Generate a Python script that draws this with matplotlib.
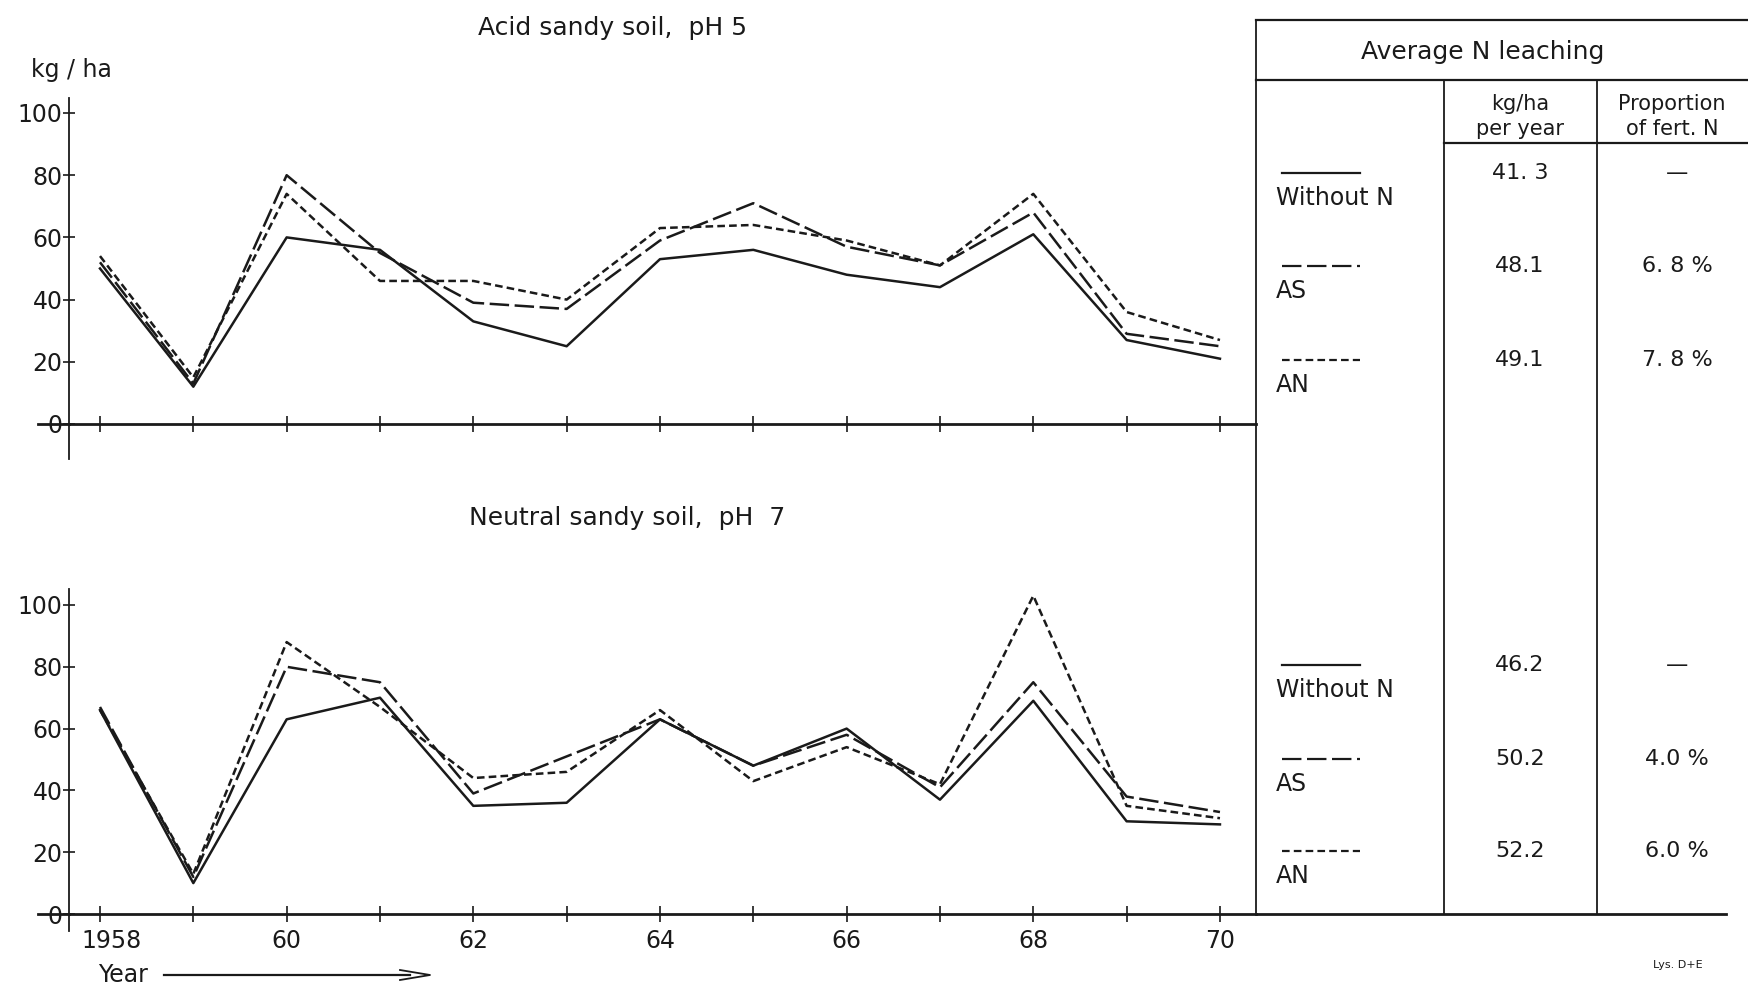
import numpy as np
import matplotlib
matplotlib.use('Agg')
import matplotlib.pyplot as plt
import matplotlib.transforms as mtransforms
from matplotlib.lines import Line2D

plt.rcParams['font.family'] = ['DejaVu Sans']
plt.rcParams['lines.scale_dashes'] = False

# Annual N leaching, kg/ha
years = np.arange(1958, 1971)
acid_without_n = [50, 12, 60, 56, 33, 25, 53, 56, 48, 44, 61, 27, 21]
acid_as = [52, 13, 80, 55, 39, 37, 59, 71, 57, 51, 68, 29, 25]
acid_an = [54, 15, 74, 46, 46, 40, 63, 64, 59, 51, 74, 36, 27]

neutral_without_n = [66, 10, 63, 70, 35, 36, 63, 48, 60, 37, 69, 30, 29]
neutral_as = [67, 12, 80, 75, 39, 51, 63, 48, 58, 41, 75, 38, 33]
neutral_an = [66, 13, 88, 67, 44, 46, 66, 43, 54, 42, 103, 35, 31]

# Table: average N leaching
series_names = ['Without N', 'AS', 'AN']
acid_avg = ['41. 3', '48.1', '49.1']
acid_prop = ['\u2014', '6. 8 %', '7. 8 %']
neutral_avg = ['46.2', '50.2', '52.2']
neutral_prop = ['\u2014', '4.0 %', '6.0 %']

tick_labels = ['1958', '', '60', '', '62', '', '64', '', '66', '', '68', '', '70']

W, H = 1748, 986
INK = '#1a1a1a'
LW = 1.8
styles = {
    'Without N': dict(ls='-'),
    'AS': dict(ls=(0, (14, 4))),
    'AN': dict(ls=(0, (5.5, 3))),
}

fig = plt.figure(figsize=(W / 100, H / 100), dpi=100)


def fx(px):
    return px / W


def fy(py):
    return 1 - py / H


def add_panel(top, bottom, y0_px, y100_px):
    left, right = 69, 1256
    ax = fig.add_axes([fx(left), fy(bottom), fx(right - left), (bottom - top) / H])
    ppu = (y0_px - y100_px) / 100.0
    ax.set_ylim(-(bottom - y0_px) / ppu, (y0_px - top) / ppu)
    ppy = 93.33
    ax.set_xlim(1958 - (100 - left) / ppy, 1958 + (right - 100) / ppy)
    for s in ['top', 'right']:
        ax.spines[s].set_visible(False)
    ax.spines['bottom'].set_position(('data', 0))
    ax.spines['bottom'].set_linewidth(2.0)
    ax.spines['left'].set_linewidth(1.3)
    ax.spines['bottom'].set_color(INK)
    ax.spines['left'].set_color(INK)
    # zero line runs on a little past the y axis
    ax.plot([-0.026, 0], [0, 0], transform=ax.get_yaxis_transform(),
            color=INK, lw=2.0, clip_on=False)
    ax.set_yticks([0, 20, 40, 60, 80, 100])
    ax.set_xticks(years)
    ax.tick_params(axis='y', direction='inout', length=9, width=1.2,
                   labelsize=17, pad=0, colors=INK)
    ax.tick_params(axis='x', direction='inout', length=12, width=1.2,
                   labelsize=17, pad=5, colors=INK)
    ax.patch.set_alpha(0)
    return ax


ax1 = add_panel(98, 459, 424, 113)
ax2 = add_panel(589, 931, 914, 605)

ax1.set_xticklabels([])
ax2.set_xticklabels(tick_labels)
# first year label sits just right of the y axis
first = ax2.get_xticklabels()[0]
first.set_transform(first.get_transform() +
                    mtransforms.ScaledTranslation(0.12, 0, fig.dpi_scale_trans))

for ax, data in [(ax1, [acid_without_n, acid_as, acid_an]),
                 (ax2, [neutral_without_n, neutral_as, neutral_an])]:
    for name, vals in zip(series_names, data):
        ax.plot(years, vals, color=INK, lw=LW, **styles[name])

fig.text(fx(613), fy(28), 'Acid sandy soil,  pH 5', ha='center', va='center',
         fontsize=18, color=INK)
fig.text(fx(31), fy(70), 'kg / ha', ha='left', va='center', fontsize=17, color=INK)
fig.text(fx(627), fy(518), 'Neutral sandy soil,  pH  7', ha='center', va='center',
         fontsize=18, color=INK)

# Year arrow under the x axis
fig.text(fx(98), fy(975), 'Year', ha='left', va='center', fontsize=17, color=INK)
fig.add_artist(Line2D([fx(164), fx(410)], [fy(975), fy(975)], color=INK, lw=1.6))
fig.add_artist(Line2D([fx(400), fx(430), fx(400)], [fy(970), fy(975), fy(980)],
                      color=INK, lw=1.3))


def hline(x0, x1, y, lw=1.6):
    fig.add_artist(Line2D([fx(x0), fx(x1)], [fy(y), fy(y)], color=INK, lw=lw))


def vline(x, y0, y1, lw=1.3):
    fig.add_artist(Line2D([fx(x), fx(x)], [fy(y0), fy(y1)], color=INK, lw=lw))


# table frame
hline(1256, 1748, 20)
hline(1256, 1748, 80)
hline(1444, 1748, 143)
hline(1256, 1726, 914, lw=2.0)
vline(1256, 20, 914)
vline(1444, 80, 914)
vline(1597, 80, 914)

fig.text(fx(1483), fy(52), 'Average N leaching', ha='center', va='center',
         fontsize=18, color=INK)
fig.text(fx(1520), fy(104), 'kg/ha', ha='center', va='center', fontsize=15, color=INK)
fig.text(fx(1520), fy(129), 'per year', ha='center', va='center', fontsize=15, color=INK)
fig.text(fx(1672), fy(104), 'Proportion', ha='center', va='center', fontsize=15, color=INK)
fig.text(fx(1672), fy(129), 'of fert. N', ha='center', va='center', fontsize=15, color=INK)

row_lines_top = [173, 266, 360]
row_lines_bottom = [665, 759, 851]
for rows, avgs, props in [(row_lines_top, acid_avg, acid_prop),
                          (row_lines_bottom, neutral_avg, neutral_prop)]:
    for name, y, avg, prop in zip(series_names, rows, avgs, props):
        fig.add_artist(Line2D([fx(1282), fx(1360)], [fy(y), fy(y)], color=INK,
                              lw=1.6, **styles[name]))
        fig.text(fx(1276), fy(y + 25), name, ha='left', va='center',
                 fontsize=17, color=INK)
        fig.text(fx(1520), fy(y), avg, ha='center', va='center', fontsize=16, color=INK)
        fig.text(fx(1677), fy(y), prop, ha='center', va='center', fontsize=16, color=INK)

fig.text(fx(1678), fy(965), 'Lys. D+E', ha='center', va='center', fontsize=8, color=INK)

fig.savefig('out.png', dpi=100, facecolor='white')
